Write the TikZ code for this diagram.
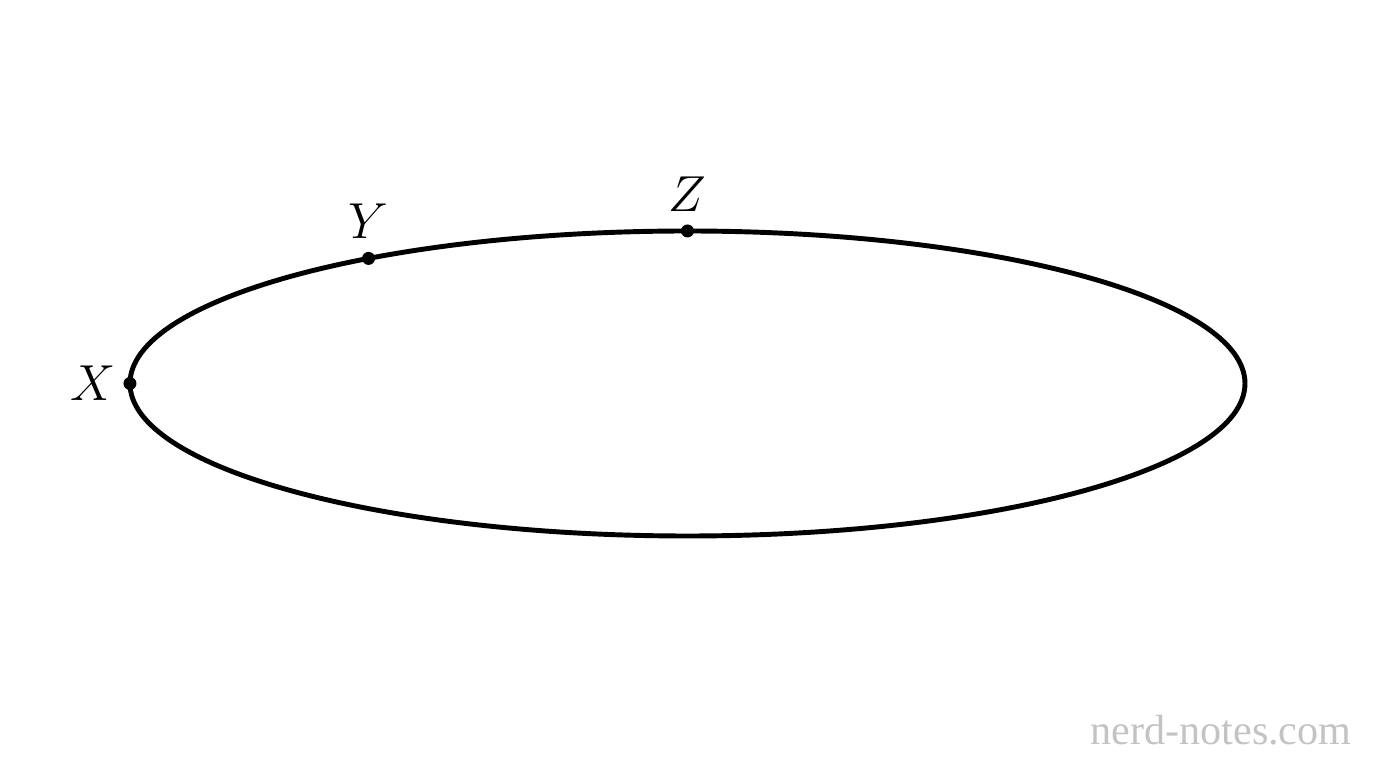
\documentclass[tikz,border=0pt]{standalone}
\usepackage{fontspec}
\newfontfamily\markfont{Liberation Serif}
\definecolor{markgray}{RGB}{195,195,195}
\begin{document}
\begin{tikzpicture}
\useasboundingbox (-6.875,-3.845) rectangle (6.885,3.835);
\draw[line width=1.4pt, draw=black] (0,0) ellipse [x radius=5.575, y radius=1.525];
\node[shape=circle, fill=black, inner sep=0pt, minimum size=0.13cm, label={[font=\Large, label distance=-1.5pt]left:$X$}] (X) at (180:5.575 and 1.525) {};
\node[shape=circle, fill=black, inner sep=0pt, minimum size=0.13cm, label={[font=\Large, label distance=0pt]above:$Y$}] (Y) at (124.9:5.575 and 1.525) {};
\node[shape=circle, fill=black, inner sep=0pt, minimum size=0.13cm, label={[font=\Large, label distance=0pt]above:$Z$}] (Z) at (90:5.575 and 1.525) {};
\node[text=markgray, font=\markfont\fontsize{12}{14}\selectfont] (mark) at (5.335,-3.47) {nerd-notes.com};
\end{tikzpicture}
\end{document}
